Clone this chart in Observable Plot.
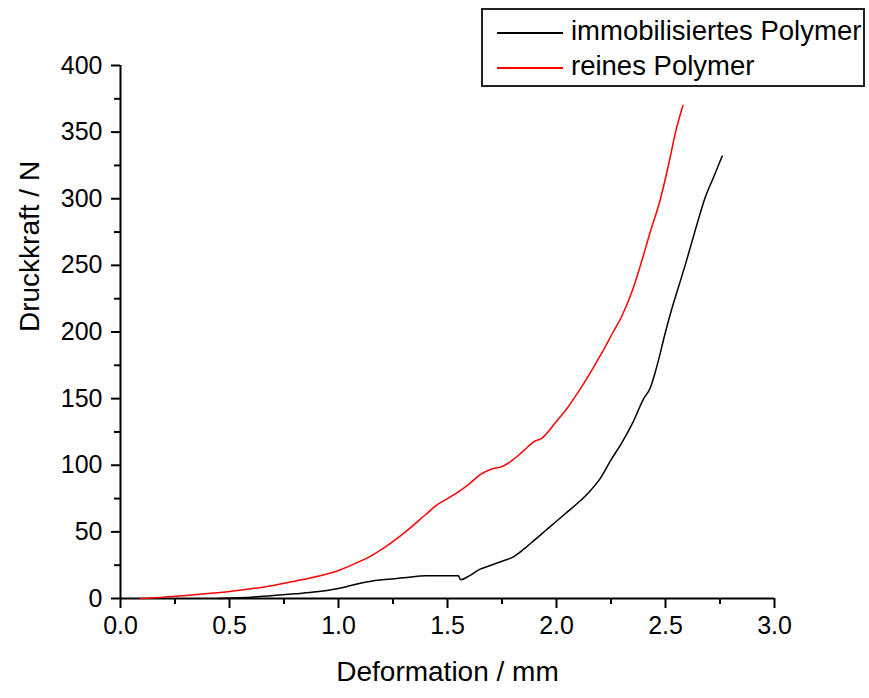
<!DOCTYPE html>
<html>
<head>
<meta charset="utf-8">
<script src="https://cdn.jsdelivr.net/npm/d3@7"></script>
<script src="https://cdn.jsdelivr.net/npm/@observablehq/plot@0.6"></script>
<style>
  body { margin: 0; background: #fff; font-family: "Liberation Sans", Arial, sans-serif; }
  #wrap { position: relative; width: 869px; height: 698px; }
  #legend { position: absolute; left: 481px; top: 8px; width: 380px; height: 75px; border: 2px solid #222; background: #fff; }
  .item { position: absolute; left: 14px; font-size: 27.5px; line-height: 30px; color: #000; white-space: nowrap; }
  .item span.sw { display: inline-block; width: 66px; height: 2px; vertical-align: middle; margin-right: 8px; }
</style>
</head>
<body>
<div id="wrap"></div>
<script>
// Series names
const seriesNames = ["immobilisiertes Polymer", "reines Polymer"];
const seriesColors = ["#000000", "#ff0000"];

// immobilisiertes Polymer: Deformation (mm), Druckkraft (N)
const blackX = [0.45, 0.5, 0.6, 0.7, 0.8, 0.9, 1.0, 1.1, 1.15, 1.2, 1.3, 1.4, 1.5, 1.55, 1.56, 1.6, 1.65, 1.7, 1.75, 1.8, 1.85, 1.9, 1.95, 2.0, 2.05, 2.1, 2.15, 2.2, 2.25, 2.3, 2.35, 2.4, 2.43, 2.46, 2.5, 2.53, 2.56, 2.59, 2.62, 2.65, 2.68, 2.72, 2.76];
const blackY = [0, 0.3, 1, 2.2, 3.5, 5, 7.5, 11.5, 13, 14, 15.5, 17, 17, 17, 14, 17, 22, 25, 28, 31, 37, 44, 51, 58, 65, 72, 80, 90, 104, 117, 132, 150, 158, 174, 200, 218, 234, 250, 267, 284, 300, 316, 332];

// reines Polymer
const redX = [0.09, 0.2, 0.3, 0.4, 0.5, 0.6, 0.7, 0.8, 0.9, 1.0, 1.1, 1.15, 1.2, 1.3, 1.4, 1.45, 1.5, 1.55, 1.6, 1.65, 1.7, 1.75, 1.8, 1.85, 1.9, 1.93, 2.0, 2.05, 2.1, 2.15, 2.2, 2.26, 2.3, 2.35, 2.385, 2.43, 2.477, 2.52, 2.546, 2.58];
const redY = [0, 1, 2.3, 3.7, 5.3, 7.3, 9.8, 13, 16.5, 21, 28, 32, 37, 49, 63, 70, 75, 80, 86, 93, 97, 99, 104, 111, 118, 120, 133, 143, 155, 168, 182, 200, 212, 232, 250, 275, 300, 330, 350, 370];

// Axis ticks
const xMajor = [0, 0.5, 1.0, 1.5, 2.0, 2.5, 3.0];
const xMinor = [0.25, 0.75, 1.25, 1.75, 2.25, 2.75];
const yMajor = [0, 50, 100, 150, 200, 250, 300, 350, 400];
const yMinor = [25, 75, 125, 175, 225, 275, 325, 375];

const xLabel = "Deformation / mm";
const yLabel = "Druckkraft / N";

const black = blackX.map((x, i) => ({x, y: blackY[i]}));
const red = redX.map((x, i) => ({x, y: redY[i]}));

const font = "Liberation Sans, Arial, sans-serif";

const chart = Plot.plot({
  width: 869,
  height: 698,
  marginLeft: 120,
  marginRight: 95,
  marginTop: 65,
  marginBottom: 100,
  style: {fontFamily: font, color: "#000", background: "#fff"},
  x: {domain: [0, 3]},
  y: {domain: [0, 400]},
  marks: [
    Plot.axisX({ticks: xMajor, tickSize: 10, tickPadding: 8, tickFormat: d3.format(".1f"), fontSize: 25, label: null, strokeWidth: 2}),
    Plot.axisX({ticks: xMinor, tickSize: 6, text: null, label: null, strokeWidth: 2}),
    Plot.axisY({ticks: yMajor, tickSize: 9, tickPadding: 9, tickFormat: d3.format("d"), fontSize: 25, label: null, strokeWidth: 2}),
    Plot.axisY({ticks: yMinor, tickSize: 6, text: null, label: null, strokeWidth: 2}),
    Plot.ruleY([0], {stroke: "#000", strokeWidth: 2}),
    Plot.ruleX([0], {stroke: "#000", strokeWidth: 2}),
    Plot.line(black, {x: "x", y: "y", stroke: seriesColors[0], strokeWidth: 1.5, curve: "monotone-x"}),
    Plot.line(red, {x: "x", y: "y", stroke: seriesColors[1], strokeWidth: 1.5, curve: "monotone-x"}),
    Plot.text([xLabel], {frameAnchor: "bottom", dy: 82, fontSize: 28, fill: "#000"}),
    Plot.text([yLabel], {frameAnchor: "left", rotate: -90, dx: -90, fontSize: 28, fill: "#000"})
  ]
});

const wrap = document.getElementById("wrap");
wrap.appendChild(chart);

const legend = document.createElement("div");
legend.id = "legend";
seriesNames.forEach((name, i) => {
  const it = document.createElement("div");
  it.className = "item";
  it.style.top = (i === 0 ? 6 : 41) + "px";
  const sw = document.createElement("span");
  sw.className = "sw";
  sw.style.background = seriesColors[i];
  it.appendChild(sw);
  it.appendChild(document.createTextNode(name));
  legend.appendChild(it);
});
wrap.appendChild(legend);
</script>
</body>
</html>
